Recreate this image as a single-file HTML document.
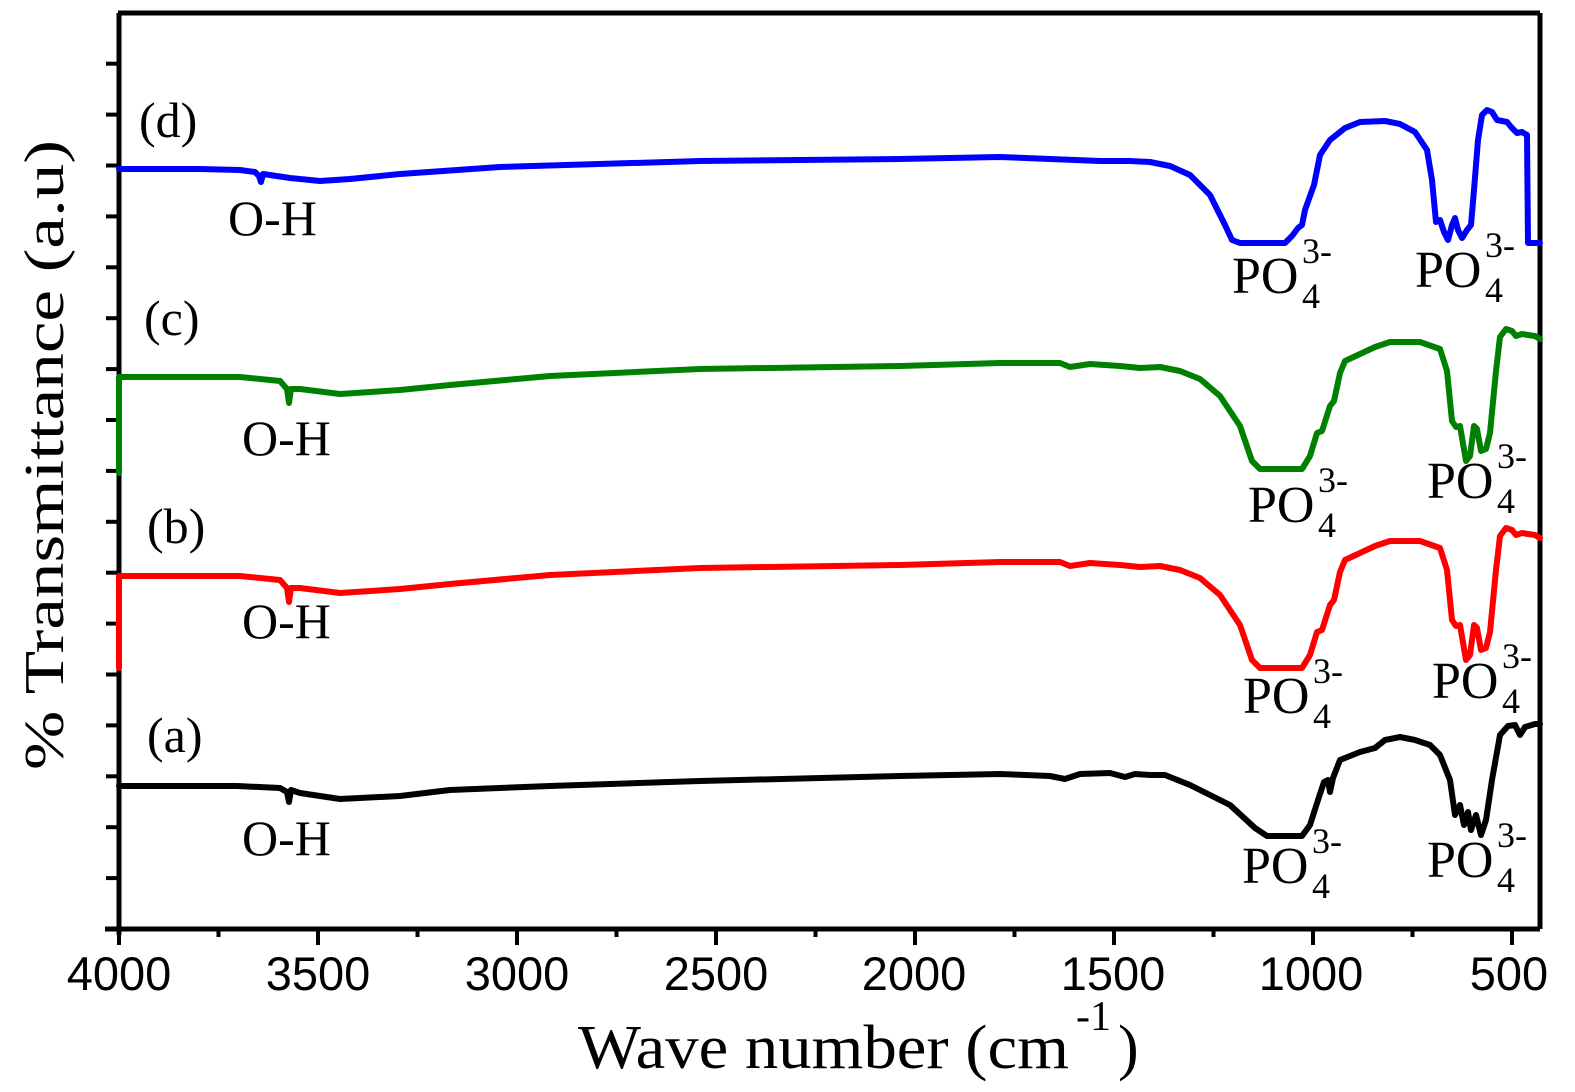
<!DOCTYPE html>
<html><head><meta charset="utf-8"><style>
html,body{margin:0;padding:0;background:#fff;}
svg{display:block;}
.t{font-family:"Liberation Serif",serif;fill:#000;}
.s{font-family:"Liberation Sans",sans-serif;fill:#000;}
</style></head><body>
<svg width="1575" height="1092" viewBox="0 0 1575 1092" xmlns="http://www.w3.org/2000/svg">
<rect width="1575" height="1092" fill="#fff"/>
<g stroke="#000" stroke-width="5" fill="none">
<line x1="118" y1="13" x2="1540" y2="13"/>
<line x1="1540" y1="13" x2="1540" y2="929"/>
<line x1="119" y1="13" x2="119" y2="935"/>
<line x1="105" y1="929" x2="1540" y2="929"/>
</g>
<g stroke="#000" stroke-width="4" id="yt"></g>
<g stroke="#000" stroke-width="4" id="xt"></g>
<g fill="none" stroke-width="6" stroke-linejoin="round" stroke-linecap="round">
<polyline id="pa" stroke="#000"/>
<polyline id="pb" stroke="#f00"/>
<polyline id="pc" stroke="#008000"/>
<polyline id="pd" stroke="#0000ff"/>
</g>
<g class="s" font-size="47" text-anchor="middle">
<text x="119" y="990">4000</text><text x="318" y="990">3500</text><text x="517" y="990">3000</text><text x="716" y="990">2500</text><text x="914" y="990">2000</text><text x="1113" y="990">1500</text><text x="1311" y="990">1000</text><text x="1509" y="990">500</text>
</g>
<g class="t">
<text x="578" y="1068" font-size="62" textLength="491" lengthAdjust="spacingAndGlyphs">Wave number (cm</text>
<text x="1076" y="1030" font-size="42">-1</text>
<text x="1118" y="1068" font-size="62">)</text>
<text transform="translate(63,455) rotate(-90)" text-anchor="middle" font-size="56" textLength="630" lengthAdjust="spacingAndGlyphs">% Transmittance (a.u)</text>
<g font-size="50">
<text x="139" y="137">(d)</text><text x="144" y="335">(c)</text><text x="147" y="543">(b)</text><text x="147" y="752">(a)</text>
<text x="228" y="235">O-H</text><text x="242" y="455">O-H</text><text x="242" y="638">O-H</text><text x="242" y="855">O-H</text>
</g>
<g id="po"></g>
</g>
</svg>
<script>
var ns="http://www.w3.org/2000/svg";
var yt=document.getElementById('yt');
for(var k=1;k<=17;k++){var y=929-k*50.9;var l=document.createElementNS(ns,'line');l.setAttribute('x1',106);l.setAttribute('x2',119);l.setAttribute('y1',y);l.setAttribute('y2',y);yt.appendChild(l);}
var xt=document.getElementById('xt');
for(var k=0;k<=14;k++){var x=119+k*99.5;if(x>1538)break;var l=document.createElementNS(ns,'line');l.setAttribute('x1',x);l.setAttribute('x2',x);l.setAttribute('y1',929);l.setAttribute('y2',k%2==0?945:937);xt.appendChild(l);}
var A=[[119,786],[237,786],[280,788],[287,792],[289,802],[291,790],[300,793],[340,799],[400,796],[450,790],[550,786],[700,781],[900,776],[1000,774],[1050,776],[1065,779],[1080,774],[1110,773],[1125,777],[1135,774],[1150,775],[1165,775],[1190,785],[1230,805],[1255,828],[1267,836],[1302,836],[1310,825],[1318,800],[1324,782],[1328,780],[1330,792],[1333,778],[1340,760],[1360,752],[1375,748],[1385,740],[1400,737],[1415,740],[1430,745],[1440,755],[1450,780],[1455,815],[1460,805],[1464,825],[1468,812],[1471,830],[1476,815],[1481,835],[1486,820],[1492,780],[1500,735],[1508,726],[1515,725],[1520,735],[1525,727],[1535,724],[1540,724]];
var B=[[119,668],[119,576],[240,576],[280,580],[287,588],[289,602],[291,588],[300,588],[340,593],[400,589],[450,584],[550,575],[700,568],[900,565],[1000,562],[1060,562],[1070,566],[1090,563],[1120,565],[1140,567],[1160,566],[1180,570],[1200,578],[1220,595],[1240,625],[1252,660],[1260,668],[1302,668],[1310,655],[1317,632],[1322,630],[1330,605],[1334,600],[1340,572],[1345,560],[1360,553],[1375,546],[1390,541],[1420,541],[1440,548],[1447,570],[1452,620],[1456,626],[1460,625],[1466,660],[1470,655],[1474,625],[1477,628],[1481,650],[1486,648],[1490,632],[1496,570],[1500,536],[1506,528],[1512,530],[1516,535],[1522,533],[1528,534],[1535,535],[1540,538]];
var C=B.map(function(p,i){return [p[0], i==0?473:p[1]-199];});
var D=[[119,169],[200,169],[240,170],[255,172],[259,176],[261,182],[263,174],[290,178],[320,181],[350,179],[400,174],[500,167],[700,161],[900,159],[1000,157],[1050,159],[1100,161],[1130,161],[1150,162],[1170,166],[1190,175],[1210,195],[1225,225],[1232,240],[1240,243],[1285,243],[1292,236],[1298,228],[1302,225],[1305,210],[1310,196],[1314,185],[1320,155],[1330,140],[1345,128],[1360,122],[1385,121],[1400,124],[1415,132],[1427,150],[1432,180],[1436,222],[1440,220],[1444,232],[1448,240],[1452,225],[1455,218],[1458,230],[1462,238],[1467,230],[1471,225],[1474,190],[1478,140],[1482,115],[1487,110],[1492,112],[1497,120],[1502,121],[1507,122],[1512,128],[1517,133],[1522,132],[1527,135],[1528,243],[1540,243]];
function S(id,P){document.getElementById(id).setAttribute('points',P.map(function(p){return p.join(',')}).join(' '));}
S('pa',A);S('pb',B);S('pc',C);S('pd',D);
var po=document.getElementById('po');
[[1232,293],[1415,287],[1248,522],[1427,498],[1243,713],[1432,698],[1242,883],[1427,877]].forEach(function(p){
 function t(x,y,fs,s){var e=document.createElementNS(ns,'text');e.setAttribute('x',x);e.setAttribute('y',y);e.setAttribute('font-size',fs);e.textContent=s;po.appendChild(e);}
 t(p[0],p[1],52,'PO');t(p[0]+70,p[1]-30,36,'3-');t(p[0]+70,p[1]+15,36,'4');
});
</script>
</body></html>
